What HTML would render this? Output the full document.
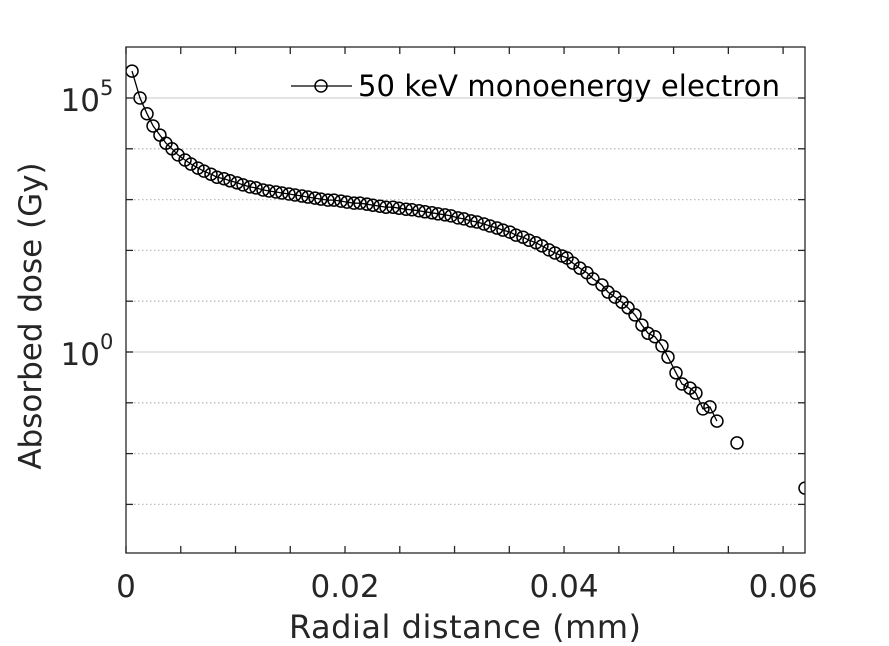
<!DOCTYPE html>
<html><head><meta charset="utf-8"><style>
html,body{margin:0;padding:0;background:#fff;}
svg{display:block;font-family:"DejaVu Sans","Liberation Sans",sans-serif;}
</style></head><body>
<svg id="chart" width="889" height="646" viewBox="0 0 889 646">
<rect x="0" y="0" width="889" height="646" fill="#fff"/>
<g id="grid"></g>
<g id="ticks"></g>
<g id="series"></g>
<rect x="126" y="47" width="679" height="506" fill="none" stroke="#262626" stroke-width="1.3"/>
<text x="465" y="638" font-size="32" fill="#262626" text-anchor="middle" textLength="352">Radial distance (mm)</text>
<text transform="translate(41,316) rotate(-90)" font-size="31" fill="#262626" text-anchor="middle">Absorbed dose (Gy)</text>
<g>
<line x1="291" y1="86" x2="352" y2="86" stroke="#000" stroke-width="1.3"/>
<circle cx="321" cy="86" r="6" fill="none" stroke="#000" stroke-width="1.5"/>
<text x="358" y="96" font-size="29" fill="#000" textLength="422">50 keV monoenergy electron</text>
</g>
</svg>
<script>
const xTicks=[0,0.005,0.01,0.015,0.02,0.025,0.03,0.035,0.04,0.045,0.05,0.055,0.06];
const xTickLabels=["0","","","","0.02","","","","0.04","","","","0.06"];
const yDecades=[-3,-2,-1,0,1,2,3,4,5];
const yLabelDecades=[0,5];
const radius=[0.00055,0.00128,0.00192,0.00247,0.00310,0.00365,0.00420,0.00475,0.00539,0.00593,0.00657,0.00712,0.00776,0.00831,0.00895,0.00950,0.01014,0.01068,0.01132,0.01187,0.01251,0.01306,0.01370,0.01424,0.01488,0.01543,0.01607,0.01662,0.01726,0.01780,0.01844,0.01899,0.01963,0.02018,0.02082,0.02137,0.02200,0.02255,0.02319,0.02374,0.02438,0.02493,0.02557,0.02611,0.02675,0.02730,0.02794,0.02849,0.02913,0.02968,0.03031,0.03086,0.03150,0.03205,0.03269,0.03324,0.03388,0.03442,0.03506,0.03561,0.03625,0.03680,0.03744,0.03798,0.03862,0.03917,0.03981,0.04027,0.04081,0.04145,0.04209,0.04264,0.04346,0.04401,0.04465,0.04529,0.04584,0.04648,0.04711,0.04766,0.04830,0.04894,0.04949,0.05022,0.05077,0.05150,0.05204,0.05268,0.05332,0.05396,0.05579,0.06200];
const logDose=[5.53,5.00,4.69,4.45,4.27,4.11,4.00,3.88,3.78,3.70,3.62,3.56,3.50,3.44,3.41,3.37,3.33,3.29,3.25,3.23,3.19,3.17,3.15,3.13,3.11,3.09,3.07,3.05,3.03,3.01,2.99,2.99,2.97,2.95,2.93,2.93,2.91,2.89,2.87,2.85,2.85,2.83,2.81,2.80,2.78,2.76,2.74,2.72,2.70,2.68,2.64,2.62,2.58,2.56,2.52,2.48,2.44,2.40,2.36,2.30,2.26,2.20,2.15,2.09,2.01,1.95,1.89,1.85,1.75,1.65,1.56,1.44,1.32,1.18,1.08,0.98,0.87,0.73,0.53,0.37,0.30,0.12,-0.10,-0.41,-0.63,-0.71,-0.81,-1.12,-1.08,-1.36,-1.79,-2.68];
const lineCount=90;

const NS="http://www.w3.org/2000/svg";
const X0=126,X1=805,Y0=47,Y1=553;
const xMax=0.062;
const yZeroPx=352, pxPerDecade=50.8;
function sx(v){return X0+v/xMax*(X1-X0);}
function sy(lg){return yZeroPx-lg*pxPerDecade;}
function mk(tag,attrs,parent){const e=document.createElementNS(NS,tag);for(const k in attrs)e.setAttribute(k,attrs[k]);parent.appendChild(e);return e;}
const grid=document.getElementById('grid'),ticks=document.getElementById('ticks'),series=document.getElementById('series');

yDecades.forEach(d=>{
  const y=sy(d);
  const major=yLabelDecades.includes(d);
  const g=mk('line',{x1:X0,x2:X1,y1:y,y2:y,stroke:major?'#dcdcdc':'#bdbdbd','stroke-width':major?1.5:1.3,'stroke-dasharray':major?'none':'1.5 2.5'},grid);
  
  
  const t1=mk('line',{x1:X0,x2:X0+7,y1:y,y2:y,stroke:'#262626','stroke-width':1.3},ticks);
  
  
  const t2=mk('line',{x1:X1-7,x2:X1,y1:y,y2:y,stroke:'#262626','stroke-width':1.3},ticks);
  
  
  if(major){
    const tx=mk('text',{x:X0-26,y:y+13,'font-size':31,fill:'#262626','text-anchor':'end'},ticks);
    tx.textContent='10';
    
    
    const sp=mk('text',{x:X0-26,y:y-3,'font-size':21,fill:'#262626'},ticks);
    sp.textContent=String(d);
    
    
  }
});
xTicks.forEach((v,i)=>{
  const x=sx(v);
  const a=mk('line',{x1:x,x2:x,y1:Y1,y2:Y1-7,stroke:'#262626','stroke-width':1.3},ticks);
  
  
  const b=mk('line',{x1:x,x2:x,y1:Y0,y2:Y0+7,stroke:'#262626','stroke-width':1.3},ticks);
  
  
  if(xTickLabels[i]){
    const t=mk('text',{x:x,y:597,'font-size':31,fill:'#262626','text-anchor':'middle'},ticks);
    t.textContent=xTickLabels[i];
    
    
  }
});
const clip=mk('clipPath',{id:'pc'},document.getElementById('chart'));
mk('rect',{x:X0,y:Y0,width:X1-X0,height:Y1-Y0},clip);
series.setAttribute('clip-path','url(#pc)');
let d='';
for(let i=0;i<lineCount;i++){d+=(i?'L':'M')+sx(radius[i]).toFixed(1)+','+sy(logDose[i]).toFixed(1);}
const pl=mk('path',{d:d,fill:'none',stroke:'#000','stroke-width':1.3},series);


radius.forEach((r,i)=>{
  const c=mk('circle',{cx:sx(r),cy:sy(logDose[i]),r:6,fill:'none',stroke:'#000','stroke-width':1.5},series);
  
  
});
</script>
</body></html>
